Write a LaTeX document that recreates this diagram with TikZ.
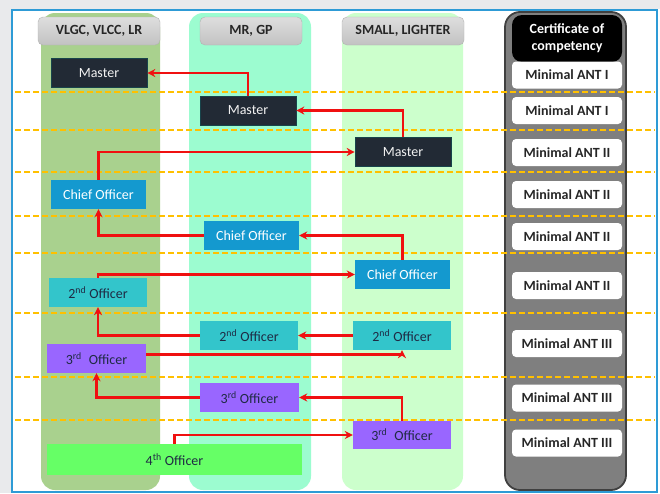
\documentclass[tikz,border=0pt]{standalone}
\usepackage{fontspec}
\setmainfont{Carlito}
\usetikzlibrary{arrows.meta}

\definecolor{pagegray}{HTML}{E9EAEC}
\definecolor{frameblue}{HTML}{2E9BD6}
\definecolor{colA}{HTML}{A9D18E}
\definecolor{colB}{HTML}{9CFCD0}
\definecolor{colC}{HTML}{CCFFCC}
\definecolor{colD}{HTML}{7F7F7F}
\definecolor{colDedge}{HTML}{404040}
\definecolor{headtop}{HTML}{DEDEDE}
\definecolor{headbot}{HTML}{C2C2C2}
\definecolor{masterfill}{HTML}{222A35}
\definecolor{chieffill}{HTML}{1499CF}
\definecolor{secondfill}{HTML}{33C5CB}
\definecolor{thirdfill}{HTML}{9966FF}
\definecolor{fourthfill}{HTML}{66FF66}
\definecolor{darktext}{HTML}{1F2A44}
\definecolor{dashgold}{HTML}{FFC000}
\definecolor{arrowred}{HTML}{F01010}

\tikzset{
  x=1pt, y=-1pt,
  rank/.style={minimum width=96pt, minimum height=29pt, inner sep=0pt,
    font=\fontsize{14}{16}\selectfont},
  masterbox/.style={rank, fill=masterfill, draw=masterfill!70!teal, line width=0.6pt, text=white!90!gray},
  chiefbox/.style={rank, fill=chieffill, text=white},
  secondbox/.style={rank, minimum width=98pt, fill=secondfill, text=darktext},
  thirdbox/.style={rank, minimum width=99pt, fill=thirdfill, text=darktext},
  fourthbox/.style={rank, minimum width=255pt, minimum height=31pt, fill=fourthfill, text=darktext},
  certbox/.style={minimum width=110pt, minimum height=27pt, inner sep=0pt,
    fill=white, rounded corners=4pt, text=black!85,
    font=\bfseries\fontsize{14}{16}\selectfont},
  headbox/.style={minimum height=28pt, inner sep=0pt, rounded corners=5pt,
    top color=headtop, bottom color=headbot, draw=gray!60, line width=0.4pt,
    text=black!85, font=\bfseries\fontsize{14}{16}\selectfont},
  lane/.style={rounded corners=14pt},
  levelline/.style={dashgold, line width=1.5pt, dash pattern=on 6pt off 3pt},
  promote/.style={arrowred, line width=2.2pt, rounded corners=0pt,
    -{Stealth[length=8pt, width=8pt]}},
}

\begin{document}
\begin{tikzpicture}
\useasboundingbox (0,0) rectangle (660,493);

% page background and frame
\fill[pagegray] (0,0) rectangle (660,493);
\fill[white] (11,9) rectangle (660,493);
\draw[frameblue, line width=2pt] (12,10) rectangle (657,492);

% vessel-class lanes
\fill[colA, lane] (41,13) rectangle (160,490);
\fill[colB, lane] (189,13) rectangle (311,490);
\fill[colC, lane] (342,13) rectangle (463,490);
\filldraw[fill=colD, draw=colDedge, line width=1.8pt, rounded corners=15pt] (505,12) rectangle (626,490);

% level separators
\foreach \yy in {92,130,172,216,253,313,377,420}
  \draw[levelline] (15,\yy) -- (655,\yy);

% lane headers
\node[headbox, minimum width=122pt] (hA) at (99,31) {VLGC, VLCC, LR};
\node[headbox, minimum width=102pt] (hB) at (251,31) {MR, GP};
\node[headbox, minimum width=122pt] (hC) at (403,31) {SMALL, LIGHTER};
\node[fill=black, rounded corners=10pt, minimum width=110pt, minimum height=47pt,
      inner sep=0pt, align=center, text=white,
      font=\bfseries\fontsize{14}{17}\selectfont] (hD) at (567,38.5)
      {Certificate of\\competency};

% certificate column
\node[certbox] (c1) at (567,75)    {Minimal ANT I};
\node[certbox] (c2) at (567,110.5) {Minimal ANT I};
\node[certbox] (c3) at (567,152.5) {Minimal ANT II};
\node[certbox] (c4) at (567,194.5) {Minimal ANT II};
\node[certbox] (c5) at (567,236.5) {Minimal ANT II};
\node[certbox] (c6) at (567,285.5) {Minimal ANT II};
\node[certbox] (c7) at (567,343.5) {Minimal ANT III};
\node[certbox] (c8) at (567,398)   {Minimal ANT III};
\node[certbox] (c9) at (567,443)   {Minimal ANT III};

% ranks
\node[masterbox] (mA) at (99,73)    {Master};
\node[masterbox] (mB) at (248,110.5) {Master};
\node[masterbox] (mC) at (403,152)  {Master};

\node[chiefbox, minimum width=95pt] (cA) at (98.5,194.5)  {Chief Officer};
\node[chiefbox, minimum width=95pt] (cB) at (251.5,235.5) {Chief Officer};
\node[chiefbox, minimum width=95pt] (cC) at (402.5,274.5) {Chief Officer};

\node[secondbox] (sA) at (98,292.5)  {2\textsuperscript{nd} Officer};
\node[secondbox] (sB) at (249,335.5) {2\textsuperscript{nd} Officer};
\node[secondbox] (sC) at (402,335.5) {2\textsuperscript{nd} Officer};

\node[thirdbox] (tA) at (96.5,358.5) {3\textsuperscript{rd}\hspace{0.5em}Officer};
\node[thirdbox] (tB) at (249.5,397.5) {3\textsuperscript{rd} Officer};
\node[thirdbox, minimum width=98pt, minimum height=28pt] (tC) at (402,435) {3\textsuperscript{rd}\hspace{0.5em}Officer};

\node[fourthbox] (fA) at (174.5,459.5) {4\textsuperscript{th} Officer};

% promotion paths
\draw[promote] (mB.north) |- (mA.east);
\draw[promote] (mC.north) |- (mB.east);
\draw[promote] (cA.north) |- (mC.west);
\draw[promote] (cB.west) -| (cA.south);
\draw[promote] (cC.north) |- (cB.east);
\draw[promote] (sA.north) |- (cC.west);
\draw[promote] (sB.west) -| (sA.south);
\draw[promote] (sC.west) -- (sB.east);
\draw[promote] ([yshift=4pt]tA.east) -| (sC.south);
\draw[promote] (tB.west) -| (tA.south);
\draw[promote] (tC.north) |- (tB.east);
\draw[promote] (fA.north) |- (tC.west);
\end{tikzpicture}
\end{document}
